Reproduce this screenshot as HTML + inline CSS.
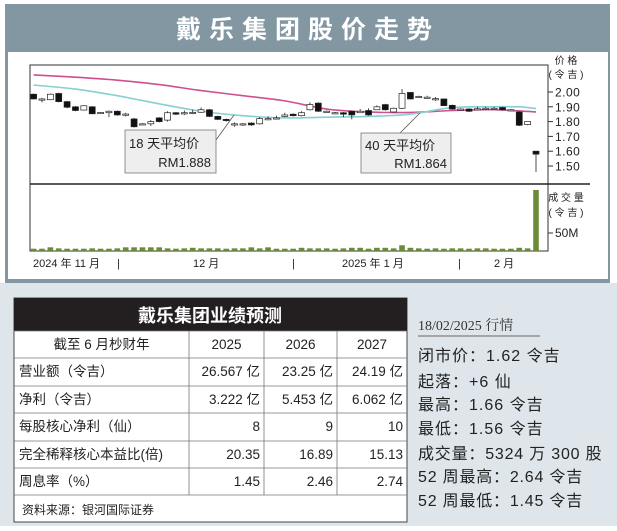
<!DOCTYPE html>
<html><head><meta charset="utf-8">
<style>
body{margin:0;width:617px;height:526px;overflow:hidden;background:#fff;font-family:"Liberation Sans","Noto Sans CJK SC",sans-serif}
svg text{font-family:"Liberation Sans","Noto Sans CJK SC",sans-serif}
</style></head>
<body>
<svg id="chart" width="617" height="526" viewBox="0 0 617 526" xmlns="http://www.w3.org/2000/svg">
<rect x="0" y="0" width="617" height="526" fill="#fff"/>
<rect x="5" y="4" width="605" height="279" fill="#8297a2"/>
<text x="308" y="38" text-anchor="middle" fill="#fff" font-size="25" font-weight="bold" letter-spacing="8">戴乐集团股价走势</text>
<rect x="8" y="52" width="600" height="227" fill="#fff"/>
<rect x="30" y="65" width="518" height="186" fill="none" stroke="#333" stroke-width="1"/>
<line x1="30" y1="184" x2="590" y2="184" stroke="#222" stroke-width="1.6"/>
<g id="mas"></g>
<g id="candles"></g>
<g id="vols"></g>
<g id="yaxis"></g>
<text x="566" y="64" text-anchor="middle" font-size="10" fill="#222">价 格</text>
<text x="566" y="78" text-anchor="middle" font-size="10" fill="#222">( 令 吉 )</text>
<text x="566" y="201" text-anchor="middle" font-size="10" fill="#222">成 交 量</text>
<text x="566" y="216" text-anchor="middle" font-size="10" fill="#222">( 令 吉 )</text>
<line x1="548" y1="233" x2="553" y2="233" stroke="#333"/>
<text x="555" y="237" font-size="12" fill="#222">50M</text>
<g font-size="11" fill="#222">
<text x="33" y="267">2024 年 11 月</text>
<text x="117" y="267">|</text>
<text x="193" y="267">12 月</text>
<text x="292" y="267">|</text>
<text x="342" y="267">2025 年 1 月</text>
<text x="458" y="267">|</text>
<text x="494" y="267">2 月</text>
</g>
<line x1="216" y1="140" x2="234" y2="115" stroke="#555" stroke-width="0.8"/>
<rect x="125" y="130" width="91" height="43" fill="#eeeeee" stroke="#777" stroke-width="0.8"/>
<text x="129" y="148" font-size="13" fill="#222">18 天平均价</text>
<text x="211" y="167" text-anchor="end" font-size="13" fill="#222">RM1.888</text>
<line x1="400" y1="133" x2="420" y2="113" stroke="#555" stroke-width="0.8"/>
<rect x="361" y="133" width="90" height="40" fill="#eeeeee" stroke="#777" stroke-width="0.8"/>
<text x="365" y="150" font-size="13" fill="#222">40 天平均价</text>
<text x="447" y="168" text-anchor="end" font-size="13" fill="#222">RM1.864</text>

<rect x="0" y="283" width="617" height="243" fill="#dfe6eb"/>
<rect x="14" y="298" width="393" height="224" fill="#fff" stroke="#444" stroke-width="1"/>
<rect x="14" y="298" width="393" height="33" fill="#231f20"/>
<text x="210" y="322" text-anchor="middle" font-size="18" font-weight="bold" fill="#fff">戴乐集团业绩预测</text>
<g id="table" font-size="13.5" fill="#222"></g>

<text x="418" y="330" font-size="14" fill="#333" style="font-family:'Liberation Serif','Noto Serif CJK SC',serif">18/02/2025 行情</text>
<line x1="418" y1="336" x2="540" y2="336" stroke="#666" stroke-width="1"/>
<g font-size="16" fill="#222">
<text x="418" y="361" letter-spacing="1">闭市价：1.62 令吉</text>
<text x="418" y="387" letter-spacing="1">起落：+6 仙</text>
<text x="418" y="410" letter-spacing="1">最高：1.66 令吉</text>
<text x="418" y="434" letter-spacing="1">最低：1.56 令吉</text>
<text x="418" y="459" letter-spacing="0.8">成交量：5324 万 300 股</text>
<text x="418" y="482" letter-spacing="0.8">52 周最高：2.64 令吉</text>
<text x="418" y="506" letter-spacing="0.8">52 周最低：1.45 令吉</text>
</g>
</svg>
<script>
const opens=[1.985,1.953,1.948,1.99,1.935,1.90,1.878,1.90,1.862,1.86,1.87,1.851,1.818,1.785,1.785,1.825,1.81,1.86,1.86,1.862,1.863,1.88,1.835,1.815,1.785,1.785,1.79,1.785,1.82,1.825,1.835,1.85,1.84,1.88,1.925,1.87,1.86,1.86,1.87,1.86,1.875,1.88,1.915,1.865,1.89,1.997,1.97,1.965,1.955,1.953,1.91,1.885,1.885,1.887,1.89,1.89,1.895,1.88,1.865,1.78,1.60];
const closes=[1.953,1.953,1.985,1.935,1.897,1.875,1.907,1.853,1.862,1.87,1.845,1.851,1.765,1.785,1.80,1.80,1.86,1.85,1.86,1.862,1.88,1.835,1.815,1.808,1.785,1.785,1.778,1.82,1.82,1.825,1.845,1.84,1.86,1.915,1.87,1.87,1.86,1.85,1.845,1.87,1.845,1.90,1.88,1.89,1.99,1.953,1.97,1.965,1.955,1.908,1.885,1.885,1.87,1.887,1.89,1.89,1.88,1.88,1.775,1.80,1.58];
const highs=[1.99,1.96,1.99,1.995,1.94,1.905,1.91,1.905,1.865,1.875,1.875,1.86,1.825,1.79,1.81,1.83,1.87,1.865,1.875,1.88,1.895,1.885,1.84,1.82,1.795,1.79,1.795,1.83,1.835,1.84,1.86,1.855,1.87,1.93,1.93,1.875,1.865,1.865,1.875,1.885,1.89,1.91,1.92,1.895,2.02,2.0,1.975,1.975,1.965,1.955,1.915,1.89,1.89,1.90,1.90,1.90,1.90,1.885,1.87,1.80,1.60];
const lows=[1.95,1.93,1.945,1.93,1.89,1.87,1.875,1.85,1.86,1.83,1.84,1.835,1.76,1.78,1.77,1.795,1.80,1.845,1.845,1.85,1.86,1.83,1.81,1.80,1.765,1.77,1.77,1.78,1.81,1.815,1.83,1.835,1.835,1.875,1.865,1.86,1.85,1.83,1.815,1.86,1.84,1.88,1.875,1.86,1.885,1.95,1.965,1.955,1.94,1.905,1.88,1.875,1.865,1.875,1.88,1.88,1.875,1.87,1.77,1.775,1.46];
const volumes=[2.0,2.0,3.2,2.3,2.0,2.0,2.0,2.3,2.0,2.0,2.3,3.2,3.2,3.2,3.2,3.2,2.3,2.0,2.3,2.8,2.3,2.3,2.3,2.0,2.3,2.3,3.2,2.3,3.2,2.0,2.0,2.0,2.8,2.3,2.3,2.3,2.0,2.3,2.8,2.8,2.0,2.8,2.8,2.3,5.0,2.8,2.3,2.0,2.3,2.0,2.3,2.3,2.0,2.3,2.3,2.0,2.0,2.0,2.8,2.3,53.24];
const ma40Idx=[0,5,10,15,20,25,30,35,40,45,50,55,60];
const ma40Val=[2.115,2.10,2.08,2.05,2.01,1.975,1.94,1.885,1.865,1.862,1.875,1.88,1.865];
const ma18Idx=[0,5,10,15,20,25,30,35,40,45,50,55,58,60];
const ma18Val=[2.047,2.02,1.975,1.92,1.87,1.84,1.825,1.83,1.835,1.85,1.895,1.90,1.90,1.888];
const priceTicks=[2.00,1.90,1.80,1.70,1.60,1.50];

const NS='http://www.w3.org/2000/svg';
const xS=i=>33.6+i*(536-33.6)/(opens.length-1);
const yP=p=>92+(2.00-p)*148;
const yV=v=>251-v*1.146;
function mk(tag,attrs,parent){const e=document.createElementNS(NS,tag);for(const k in attrs)e.setAttribute(k,attrs[k]);parent.appendChild(e);return e;}
function smooth(idx,val){let pts=idx.map((d,i)=>[xS(d),yP(val[i])]);let d='M'+pts[0][0]+','+pts[0][1];
for(let i=0;i<pts.length-1;i++){const p0=pts[Math.max(0,i-1)],p1=pts[i],p2=pts[i+1],p3=pts[Math.min(pts.length-1,i+2)];
d+=' C'+(p1[0]+(p2[0]-p0[0])/6)+','+(p1[1]+(p2[1]-p0[1])/6)+' '+(p2[0]-(p3[0]-p1[0])/6)+','+(p2[1]-(p3[1]-p1[1])/6)+' '+p2[0]+','+p2[1];}return d;}
const mas=document.getElementById('mas');
const l40=mk('path',{d:smooth(ma40Idx,ma40Val),fill:'none',stroke:'#d0508e','stroke-width':1.6},mas);


const l18=mk('path',{d:smooth(ma18Idx,ma18Val),fill:'none',stroke:'#86cfd2','stroke-width':1.6},mas);


const cg=document.getElementById('candles');
opens.forEach((o,i)=>{const c=closes[i],x=xS(i);const g=mk('g',{},cg);


mk('line',{x1:x,x2:x,y1:yP(highs[i]),y2:yP(lows[i]),stroke:'#222','stroke-width':0.8},g);
const top=yP(Math.max(o,c)),h=Math.max(1.2,Math.abs(yP(o)-yP(c)));
mk('rect',{x:x-3,y:top,width:6,height:h,fill:c<o?'#111':'#fff',stroke:'#222','stroke-width':0.7},g);});
const vg=document.getElementById('vols');
volumes.forEach((v,i)=>{const r=mk('rect',{x:xS(i)-2.8,y:yV(v),width:5.6,height:251-yV(v),fill:'#6b8a37'},vg);

});
const yg=document.getElementById('yaxis');
priceTicks.forEach(t=>{mk('line',{x1:548,x2:553,y1:yP(t),y2:yP(t),stroke:'#333'},yg);
const tx=mk('text',{x:555,y:yP(t)+4.5,'font-size':12,fill:'#222','letter-spacing':'0.5'},yg);tx.textContent=t.toFixed(2);

});
const rows=[["截至 6 月杪财年","2025","2026","2027"],["营业额（令吉）","26.567 亿","23.25 亿","24.19 亿"],["净利（令吉）","3.222 亿","5.453 亿","6.062 亿"],["每股核心净利（仙）","8","9","10"],["完全稀释核心本益比(倍)","20.35","16.89","15.13"],["周息率（%）","1.45","2.46","2.74"]];
const tg=document.getElementById('table');
const rowY=[331,358,386,413,441,468,495];const colX=[14,189,264,337,407];
rowY.forEach(y=>mk('line',{x1:14,x2:407,y1:y,y2:y,stroke:'#777','stroke-width':0.8},tg));
[189,264,337].forEach(x=>mk('line',{x1:x,x2:x,y1:331,y2:495,stroke:'#777','stroke-width':0.8},tg));
rows.forEach((r,ri)=>{const y=rowY[ri]+18;r.forEach((cell,ci)=>{let a={y:y};
if(ri===0){a.x=(colX[ci]+colX[ci+1])/2;a['text-anchor']='middle';}
else if(ci===0){a.x=19;}else{a.x=colX[ci+1]-4;a['text-anchor']='end';}
const t=mk('text',a,tg);t.textContent=cell;

});});
const src=mk('text',{x:22,y:514,'font-size':12},tg);src.textContent='资料来源：银河国际证券';


</script>
</body></html>
